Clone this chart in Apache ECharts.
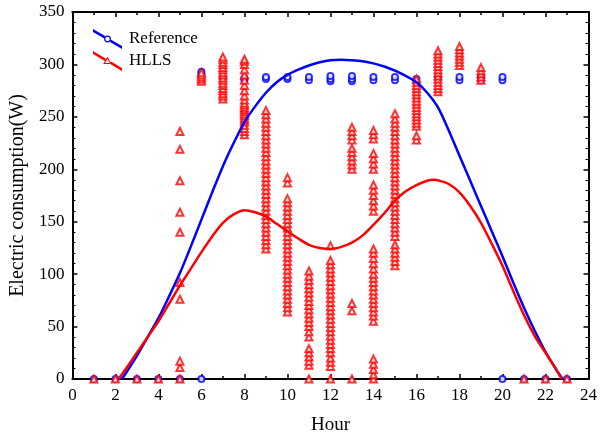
<!DOCTYPE html>
<html>
<head>
<meta charset="utf-8">
<script src="https://cdn.jsdelivr.net/npm/echarts@6/dist/echarts.min.js"></script>
<style>html,body{margin:0;padding:0;background:#fff;}#c{width:600px;height:440px;}</style>
</head>
<body>
<div id="c"></div>
<script>
// Fitted curves
const refCurveX = [2.3, 2.5, 3, 3.5, 4, 4.5, 5, 5.5, 6, 6.5, 7, 7.5, 8, 8.5, 9, 9.5, 10, 10.5, 11, 11.5, 12, 12.5, 13, 13.5, 14, 14.5, 15, 15.5, 16, 16.5, 17, 17.5, 18, 18.5, 19, 19.5, 20, 20.5, 21, 21.5, 22, 22.5, 22.8];
const refCurveY = [0, 6, 22, 40, 58, 79, 101, 126, 152, 178, 203, 225, 245, 260, 273, 283, 290, 295, 299, 302, 304, 304.5, 304, 303, 301, 298, 294, 289, 283, 273, 259, 237, 213, 189, 165, 141, 117, 92, 68, 46, 26, 9, 0];
const hllsCurveX = [2.15, 2.5, 3, 3.5, 4, 4.5, 5, 5.5, 6, 6.5, 7, 7.5, 8, 8.5, 9, 9.5, 10, 10.5, 11, 11.5, 12, 12.5, 13, 13.5, 14, 14.5, 15, 15.5, 16, 16.5, 16.8, 17, 17.5, 18, 18.5, 19, 19.5, 20, 20.5, 21, 21.5, 22, 22.5, 22.75];
const hllsCurveY = [0, 10, 25, 40, 55, 72, 89, 105, 121, 136, 149, 157, 161, 159, 155, 148, 141, 134, 128, 125, 124, 126, 130, 137, 147, 158, 170, 179, 185, 189, 190, 189.5, 186, 178, 165, 149, 129, 108, 84, 61, 41, 25, 9, 0];

// Measured points per hour: [hour, [values]]
const refPoints = [
  [1, [0]], [2, [0]], [3, [0]], [4, [0]], [5, [0]],
  [6, [0, 289, 291, 293]], [7, [287]], [8, [285, 287]], [9, [286, 288]],
  [10, [286, 288]], [11, [285, 288]], [12, [284, 286, 289]], [13, [284, 286, 289]],
  [14, [285, 288]], [15, [285, 288]], [16, [283, 286]], [17, [287]],
  [18, [285, 288]], [19, [285, 288]], [20, [0, 285, 288]],
  [21, [0]], [22, [0]], [23, [0]]
];
const hllsPoints = [
  [1, [0]], [2, [0]], [3, [0]], [4, [0]],
  [5, [0, 11, 17, 76, 92, 140, 159, 189, 219, 236]],
  [6, [284, 286, 288, 290, 292]],
  [7, [267, 270, 272, 275, 277, 280, 282, 285, 287, 290, 292, 295, 297, 300, 302, 305, 307]],
  [8, [233, 236, 239, 242, 245, 247, 249, 251, 253, 255, 257, 259, 261, 263, 266, 270, 275, 280, 285, 290, 295, 300, 303, 305]],
  [9, [124, 128, 132, 136, 140, 144, 148, 152, 156, 160, 164, 168, 172, 176, 180, 184, 188, 192, 196, 200, 204, 208, 212, 216, 220, 224, 228, 232, 236, 240, 244, 248, 252, 256]],
  [10, [64, 68, 72, 76, 80, 84, 88, 92, 96, 100, 104, 108, 112, 116, 120, 124, 128, 132, 136, 140, 144, 148, 152, 156, 160, 164, 168, 172, 187, 192]],
  [11, [0, 13, 17, 21, 25, 29, 40, 45, 50, 54, 58, 62, 66, 70, 74, 78, 82, 86, 90, 94, 98, 103]],
  [12, [0, 12, 16, 20, 25, 29, 33, 37, 41, 45, 49, 53, 57, 61, 65, 69, 73, 77, 81, 85, 89, 93, 97, 101, 105, 109, 113, 127]],
  [13, [0, 65, 72, 200, 204, 208, 212, 216, 220, 228, 232, 236, 240]],
  [14, [0, 4, 9, 14, 19, 55, 60, 64, 68, 72, 76, 80, 84, 88, 92, 96, 100, 105, 110, 115, 120, 124, 160, 165, 170, 175, 180, 185, 200, 205, 210, 215, 229, 233, 237]],
  [15, [108, 112, 116, 120, 124, 128, 136, 140, 144, 148, 152, 156, 160, 164, 168, 172, 176, 180, 184, 188, 192, 196, 200, 204, 208, 212, 216, 220, 224, 228, 232, 236, 240, 244, 248, 253]],
  [16, [228, 232, 241, 244, 247, 250, 253, 256, 259, 262, 265, 268, 271, 274, 277, 280, 283, 286]],
  [17, [274, 277, 280, 283, 286, 289, 292, 295, 298, 301, 304, 307, 310, 313]],
  [18, [299, 302, 305, 308, 311, 314, 317]],
  [19, [285, 288, 291, 294, 297]],
  [21, [0]], [22, [0]], [23, [0]]
];

const xTicks = {min: 0, max: 24, interval: 2};
const yTicks = {min: 0, max: 350, interval: 50};

function pairs(xs, ys) { return xs.map((x, i) => [x, ys[i]]); }
function flatten(cols) { const out = []; cols.forEach(c => c[1].forEach(v => out.push([c[0], v]))); return out; }

const BLUE = '#0000ff', RED = '#ff0000';
const FONT = 'Liberation Serif';

const iconCircle = 'path://M0,-1.5 L11.7,5.36 L11.7,8.36 L0,1.5 Z M17.3,8.64 L29,15.5 L29,18.5 L17.3,11.64 Z ' +
  'M11.1,8.5 A3.4,3.4 0 1,1 17.9,8.5 A3.4,3.4 0 1,1 11.1,8.5 Z M12.3,8.5 A2.2,2.2 0 1,0 16.7,8.5 A2.2,2.2 0 1,0 12.3,8.5 Z';
const iconTri = 'path://M0,-1.5 L12.6,5.88 L12.6,8.88 L0,1.5 Z M18,9.05 L29,15.5 L29,18.5 L18,12.05 Z ' +
  'M14.5,4.3 L18.7,11.6 L10.3,11.6 Z M14.5,6.4 L12.1,10.6 L16.9,10.6 Z';

function axisCommon(showLabel) {
  return {
    axisLine: {show: true, onZero: false, lineStyle: {color: '#000', width: 2}},
    axisTick: {show: true, inside: true, length: 5, lineStyle: {color: '#000', width: 1.5}},
    splitLine: {show: false},
    axisLabel: {show: showLabel, color: '#000', fontSize: 17, fontFamily: FONT, margin: 8}
  };
}

const chart = echarts.init(document.getElementById('c'), null, {renderer: 'canvas'});
chart.setOption({
  animation: false,
  backgroundColor: '#fff',
  grid: {left: 72, right: 8, top: 12, bottom: 60, containLabel: false},
  legend: {
    orient: 'vertical', left: 93, top: 29, itemWidth: 29, itemHeight: 20, itemGap: 2, padding: 0,
    textStyle: {color: '#000', fontSize: 17, fontFamily: FONT, padding: [0, 0, 0, 2]},
    data: [
      {name: 'Reference', icon: iconCircle, itemStyle: {color: BLUE, borderWidth: 0, opacity: 1}},
      {name: 'HLLS', icon: iconTri, itemStyle: {color: RED, borderWidth: 0, opacity: 1}}
    ]
  },
  xAxis: [
    Object.assign({type: 'value', position: 'bottom', min: xTicks.min, max: xTicks.max, interval: xTicks.interval,
      name: 'Hour', nameLocation: 'middle', nameGap: 37,
      nameTextStyle: {color: '#000', fontSize: 19, fontFamily: FONT}}, axisCommon(true),
      {minorTick: {show: true, splitNumber: 2, length: 3, lineStyle: {color: '#000', width: 1.5}}}),
    Object.assign({type: 'value', position: 'top', min: xTicks.min, max: xTicks.max, interval: xTicks.interval}, axisCommon(false),
      {minorTick: {show: true, splitNumber: 2, length: 3, lineStyle: {color: '#000', width: 1.5}}})
  ],
  yAxis: [
    Object.assign({type: 'value', position: 'left', min: yTicks.min, max: yTicks.max, interval: yTicks.interval,
      name: 'Electric consumption(W)', nameLocation: 'middle', nameGap: 42,
      nameTextStyle: {color: '#000', fontSize: 20, fontFamily: FONT}}, axisCommon(true),
      {minorTick: {show: true, splitNumber: 5, length: 3, lineStyle: {color: '#000', width: 1}}}),
    Object.assign({type: 'value', position: 'right', min: yTicks.min, max: yTicks.max, interval: yTicks.interval}, axisCommon(false),
      {minorTick: {show: true, splitNumber: 5, length: 3, lineStyle: {color: '#000', width: 1}}})
  ],
  series: [
    {name: 'Reference', type: 'line', xAxisIndex: 0, yAxisIndex: 0, data: pairs(refCurveX, refCurveY),
      smooth: 0.3, showSymbol: false, symbol: 'none', z: 5, lineStyle: {color: BLUE, width: 2.5}, itemStyle: {color: BLUE}},
    {name: 'HLLS', type: 'line', xAxisIndex: 0, yAxisIndex: 0, data: pairs(hllsCurveX, hllsCurveY),
      smooth: 0.3, showSymbol: false, symbol: 'none', z: 5, lineStyle: {color: RED, width: 2.5}, itemStyle: {color: RED}},
    {name: 'Reference', type: 'scatter', xAxisIndex: 0, yAxisIndex: 0, data: flatten(refPoints),
      symbol: 'emptyCircle', symbolSize: 6, z: 2, itemStyle: {color: BLUE, borderColor: BLUE, borderWidth: 1}},
    {name: 'HLLS', type: 'scatter', xAxisIndex: 0, yAxisIndex: 0, data: flatten(hllsPoints),
      symbol: 'emptyTriangle', symbolSize: 7, z: 3, itemStyle: {color: RED, borderColor: RED, borderWidth: 1}}
  ]
});
</script>
</body>
</html>
